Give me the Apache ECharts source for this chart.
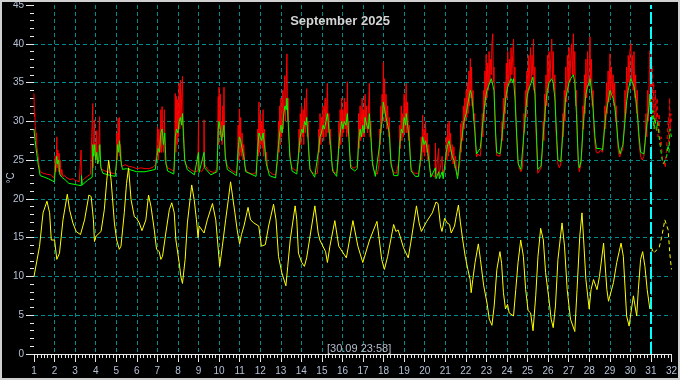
<!DOCTYPE html>
<html><head><meta charset="utf-8">
<script src="https://cdn.jsdelivr.net/npm/echarts@6/dist/echarts.min.js"></script>
<style>html,body{margin:0;padding:0;background:#000;}#c{width:680px;height:380px;}</style>
</head><body><div id="c"></div>
<script>
const titleText = 'September 2025';
const cursorText = '[30.09 23:58]';
const unitText = '°C';
const xTicks = {min: 1, max: 32, interval: 1};
const yTicks = {min: 0, max: 45, interval: 5};
const cursorDay = 31;

// [day, °C]
const red = [
[1.00,33.6],[1.02,30.6],[1.04,31],[1.06,29.3],[1.08,29],[1.10,27.6],[1.12,28.5],[1.14,26.8],[1.17,27],[1.20,25.5],[1.24,24.5],[1.30,23.5],[1.45,23.3],[1.6,23.2],[1.8,23.1],[1.98,22.7],
[2.03,25.5],[2.06,23.5],[2.09,26],[2.11,28],[2.13,24],[2.16,26.3],[2.19,23.5],[2.22,25.9],[2.25,23.5],[2.28,25],[2.31,23],[2.35,23.8],[2.4,22.9],[2.5,23],[2.6,22.7],[2.75,22.5],[2.9,22.6],[3.0,22.4],
[3.1,22.3],[3.2,22.2],[3.27,22.1],[3.29,26.3],[3.31,22.3],[3.45,22.6],[3.6,22.9],[3.75,23.2],[3.83,23.3],
[3.86,32.3],[3.88,24],[3.91,28],[3.94,30.2],[3.96,25.5],[3.99,27.2],[4.02,25],[4.05,28.8],[4.08,24.5],[4.11,26],[4.15,27],[4.19,30.6],[4.21,25.5],[4.25,24.2],[4.3,23.8],[4.45,23.6],[4.6,23.5],[4.8,23.3],[4.95,23.3],
[5.0,24],[5.03,28.5],[5.06,25],[5.09,30.4],[5.12,26.5],[5.15,30.5],[5.18,25.5],[5.21,27],[5.25,24.2],[5.32,24],[5.45,24.4],[5.6,24.2],[5.8,24.1],[6.0,23.9],
[6.2,24],[6.4,23.9],[6.6,23.9],[6.8,24.1],[6.9,24.4],
[6.95,25.5],[6.98,27],[7.01,29.3],[7.04,25],[7.07,29],[7.1,27.5],[7.13,26],[7.17,31.5],[7.2,26],[7.23,31.9],[7.26,27.2],[7.3,26],[7.34,31.5],[7.37,25],[7.42,24.8],[7.5,24],[7.65,23.8],[7.8,23.6],
[7.84,24.5],[7.87,33.6],[7.9,26],[7.93,33.2],[7.96,27],[7.99,32.8],[8.02,28],[8.06,34.9],[8.09,29],[8.12,35.3],[8.15,30],[8.18,33],[8.22,35.8],[8.25,30],[8.28,28.5],[8.31,26],[8.35,24.6],[8.45,24.2],[8.6,23.8],[8.8,23.5],[8.97,23.6],
[9.0,30.2],[9.02,23.8],[9.15,23.5],[9.26,24],[9.27,30.2],[9.29,24.5],[9.35,24.2],[9.45,23.8],[9.6,23.5],[9.8,23.4],[9.9,24],
[9.93,27.2],[9.96,33.2],[9.98,27],[10.0,34.4],[10.03,29],[10.06,33.5],[10.09,28],[10.12,30],[10.15,27],[10.18,32],[10.21,28],[10.24,34.4],[10.27,27.2],[10.3,26],[10.34,24.6],[10.42,24.2],[10.55,23.8],[10.7,23.5],[10.85,23.4],
[10.9,24.5],[10.93,29.5],[10.96,25],[10.99,31.6],[11.02,26],[11.05,30.5],[11.08,25.5],[11.12,28.5],[11.16,25],[11.2,27],[11.25,24.2],[11.35,23.5],[11.5,23.3],[11.65,23.2],[11.8,23.4],
[11.85,25],[11.88,29],[11.91,25.5],[11.94,32.5],[11.97,26],[12.0,31],[12.03,27],[12.07,30],[12.1,26.5],[12.14,31.5],[12.17,25.5],[12.21,29],[12.25,25],[12.3,26],[12.36,24],[12.45,23.5],[12.6,23.2],[12.75,23.1],
[12.86,25],[12.89,30],[12.92,26],[12.95,32],[12.98,27],[13.01,33],[13.04,28],[13.07,31],[13.1,34],[13.13,29],[13.16,33.5],[13.2,35.9],[13.23,30],[13.27,35],[13.3,38.7],[13.33,30],[13.36,33],[13.4,28],[13.44,26],[13.5,24.5],[13.55,24],[13.65,23.8],[13.78,23.6],
[13.86,25],[13.89,29],[13.92,26],[13.95,31],[13.98,27],[14.02,32],[14.05,28],[14.09,31.5],[14.12,27],[14.16,33],[14.2,28.5],[14.23,32],[14.26,34.2],[14.29,28],[14.33,30],[14.37,25.5],[14.42,24],[14.5,23.5],[14.65,23.2],[14.78,23.3],
[14.82,25],[14.85,29],[14.88,26],[14.91,31],[14.95,27],[14.98,30.5],[15.02,28],[15.06,32],[15.09,27.5],[15.12,31],[15.16,33],[15.2,28],[15.24,32.5],[15.27,34.9],[15.3,28.5],[15.34,31],[15.38,27],[15.42,29],[15.46,25],[15.52,24],[15.6,23.4],[15.72,23.3],
[15.8,25],[15.83,30],[15.86,26.5],[15.89,31.5],[15.92,27],[15.96,33],[15.99,28],[16.02,31.5],[16.06,28.5],[16.09,33],[16.13,29],[16.17,32.5],[16.21,28],[16.24,35.1],[16.27,28.5],[16.31,30],[16.35,26],[16.4,24.5],[16.48,24],[16.6,24],[16.72,24.3],
[16.76,25.5],[16.79,31],[16.82,26.5],[16.86,32],[16.89,27.5],[16.92,30],[16.96,33],[16.99,28],[17.03,31.5],[17.06,28],[17.1,33.5],[17.14,29],[17.18,32],[17.22,28.5],[17.26,31],[17.31,34.9],[17.34,28],[17.38,30],[17.42,26.5],[17.46,25],[17.52,23.8],[17.6,23.3],[17.7,23.2],
[17.78,24.5],[17.81,29],[17.84,27],[17.87,32],[17.9,28.5],[17.93,33.5],[17.96,30],[17.99,37.6],[18.02,31],[18.05,35.5],[18.08,30],[18.12,33.5],[18.16,29],[18.2,32],[18.24,28],[18.28,30.5],[18.32,26],[18.36,25],[18.42,24],[18.5,23.4],[18.62,23.3],[18.7,23.4],
[18.76,25],[18.79,29.5],[18.82,26.5],[18.86,32],[18.89,27.5],[18.93,31],[18.96,28],[19.0,33.5],[19.03,28.5],[19.07,32],[19.1,34.9],[19.13,28.5],[19.17,32.5],[19.21,27.5],[19.25,29.5],[19.29,25.5],[19.34,24],[19.42,23.4],[19.55,23.3],[19.7,23.3],
[19.8,24.5],[19.83,28],[19.86,25],[19.9,30.8],[19.93,26],[19.97,29],[20.0,25.5],[20.04,30],[20.08,26],[20.12,28.5],[20.16,25],[20.2,27],[20.25,24],[20.3,23.2],[20.4,23],[20.5,22.8],
[20.52,27.2],[20.54,23],[20.62,22.9],[20.68,26.5],[20.7,23],[20.78,22.9],[20.85,25.5],[20.87,23],[20.95,23.2],
[21.02,24.5],[21.05,28],[21.08,25],[21.12,29.7],[21.15,25.5],[21.19,30],[21.22,26],[21.26,28.5],[21.3,25],[21.34,27],[21.38,24.5],[21.42,26.7],[21.45,24],[21.5,25.5],[21.55,23.5],[21.62,23],[21.68,22.9],
[21.72,25],[21.75,29.7],[21.78,26],[21.82,30],[21.85,27.5],[21.88,32],[21.92,29],[21.95,33],[21.98,30],[22.02,34],[22.05,30.5],[22.08,35],[22.11,31],[22.15,36.5],[22.18,32],[22.22,38.1],[22.25,33],[22.28,37],[22.31,32],[22.35,34],[22.39,30],[22.43,31],[22.47,27],[22.52,25.4],[22.58,25.8],
[22.65,26],[22.7,25.5],[22.76,27],[22.8,31],[22.83,28],[22.86,34],[22.89,30],[22.93,36.5],[22.96,32],[22.99,38.6],[23.03,33],[23.06,37.5],[23.1,34],[23.13,39],[23.17,35],[23.2,38],[23.24,36],[23.27,40],[23.31,41.3],[23.34,35],[23.37,37],[23.41,31],[23.45,28],[23.5,25.6],[23.58,25.8],[23.66,25.5],
[23.72,26.5],[23.76,30],[23.79,27.5],[23.83,33],[23.86,29],[23.9,35],[23.93,31],[23.97,37.5],[24.0,33],[24.04,39],[24.08,34.5],[24.12,38],[24.16,35],[24.2,39.5],[24.24,36],[24.28,38.5],[24.32,40.6],[24.35,35],[24.39,37],[24.43,31],[24.47,28],[24.52,25],[24.6,24],[24.68,23.5],[24.75,24],
[24.8,27],[24.83,31],[24.86,28.5],[24.9,34],[24.93,30.5],[24.97,36.5],[25.0,32],[25.04,38.5],[25.07,34],[25.11,37.5],[25.15,39.5],[25.18,35],[25.22,38.5],[25.26,36],[25.29,40.6],[25.32,34],[25.36,37],[25.4,30],[25.44,27],[25.5,23.3],[25.58,23.5],[25.66,24],
[25.72,26],[25.76,30],[25.8,27.5],[25.83,33.5],[25.87,30],[25.9,36],[25.94,32],[25.97,38.5],[26.01,34],[26.05,39],[26.09,35],[26.13,38],[26.18,40.6],[26.21,35.5],[26.25,39],[26.29,34],[26.33,36],[26.37,30],[26.42,27],[26.48,24.5],[26.55,24],[26.62,24.5],
[26.68,27],[26.72,31],[26.75,28],[26.79,34],[26.83,30],[26.86,37],[26.9,32.5],[26.94,38.5],[26.98,34],[27.02,39.5],[27.06,35],[27.1,38],[27.14,40],[27.18,36],[27.23,41.3],[27.26,36],[27.3,39],[27.34,32],[27.38,34],[27.42,28],[27.47,24.5],[27.52,23.5],[27.6,24.5],
[27.66,27],[27.7,32],[27.73,29],[27.77,36],[27.8,31],[27.84,38],[27.88,33],[27.92,39],[27.96,34.5],[28.0,37],[28.04,40.9],[28.07,35],[28.11,38],[28.15,32],[28.19,34],[28.23,29],[28.28,27],[28.35,26],[28.45,25.9],[28.55,26.3],[28.65,26],
[28.72,28],[28.76,32],[28.8,29],[28.84,35],[28.88,31],[28.92,36.5],[28.96,32.5],[29.01,38.7],[29.04,33],[29.08,37],[29.12,33.5],[29.16,36],[29.2,32],[29.24,35],[29.28,30],[29.32,32],[29.37,28],[29.42,26],[29.48,25.4],[29.56,25.6],[29.64,26.5],
[29.7,29],[29.74,34],[29.78,31],[29.82,37],[29.86,33],[29.9,38.5],[29.94,35],[29.98,39],[30.03,40],[30.06,35.5],[30.1,38.5],[30.14,34],[30.18,39],[30.22,33],[30.26,36],[30.3,31],[30.34,34],[30.38,29],[30.43,27],[30.5,25.5],[30.58,25],[30.66,25.5],
[30.72,27],[30.76,31],[30.8,28],[30.84,34],[30.88,30],[30.92,36],[30.95,39.1],[30.98,33],[31.0,36]
];

const green = [
[1.0,29],[1.03,28],[1.06,27.5],[1.1,26.5],[1.15,25.5],[1.2,24.5],[1.3,23],[1.5,22.8],[1.7,22.6],[1.98,22.2],
[2.05,24],[2.1,25.5],[2.15,24.5],[2.2,25],[2.25,23.2],[2.35,22.8],[2.5,22.5],[2.7,22],[2.9,21.9],
[3.1,21.8],[3.3,21.7],[3.31,23],[3.35,21.8],[3.6,22.4],[3.83,22.8],
[3.86,27],[3.9,25.5],[3.95,27],[4.0,25],[4.05,26],[4.1,24.5],[4.15,25],[4.2,27],[4.25,24],[4.35,23.3],[4.6,23.1],[4.95,22.9],
[5.02,25],[5.07,27],[5.12,26],[5.16,27.5],[5.22,25],[5.3,23.8],[5.5,23.9],[6.0,23.5],
[6.4,23.5],[6.9,23.8],
[6.98,25.5],[7.03,26.5],[7.1,26],[7.17,28.5],[7.23,29],[7.3,27],[7.36,28.5],[7.42,24.5],[7.5,23.6],[7.8,23.2],
[7.87,28],[7.93,29],[8.0,28.5],[8.06,30],[8.12,30.5],[8.18,29.5],[8.22,31],[8.27,28],[8.33,25],[8.45,23.8],[8.8,23.1],
[9.0,26],[9.03,23.4],[9.27,26],[9.3,24],[9.6,23.1],[9.9,23.5],
[9.96,29],[10.0,30],[10.06,29],[10.12,27.5],[10.18,28.5],[10.24,29.5],[10.3,25.5],[10.4,23.8],[10.85,23],
[10.93,26.5],[10.99,28],[11.05,27.5],[11.12,26.5],[11.2,25.5],[11.3,23.5],[11.8,22.9],
[11.88,26.5],[11.94,28.5],[12.0,28],[12.07,27.5],[12.14,28.5],[12.21,27],[12.3,24.5],[12.45,23],[12.75,22.7],
[12.89,27],[12.95,28.5],[13.01,29.5],[13.07,28.5],[13.13,30.5],[13.2,32],[13.27,31.5],[13.3,33],[13.36,30],[13.44,25.5],[13.55,23.6],[13.78,23.2],
[13.89,26.5],[13.95,28],[14.02,29],[14.09,28.5],[14.16,30],[14.23,29.5],[14.26,30.5],[14.33,27.5],[14.42,23.8],[14.65,22.8],
[14.85,26.5],[14.91,28],[14.98,28.5],[15.06,29.5],[15.12,29],[15.2,30],[15.27,31],[15.34,29],[15.42,27],[15.52,23.6],[15.72,22.9],
[15.83,27],[15.89,28.5],[15.96,30],[16.02,29],[16.09,30],[16.17,29.5],[16.24,31],[16.31,28],[16.4,24],[16.6,23.6],[16.72,23.9],
[16.79,27.5],[16.86,29],[16.92,28],[16.99,29.5],[17.06,28.5],[17.1,30.5],[17.18,29.5],[17.26,29],[17.31,31],[17.38,28],[17.46,24.5],[17.6,22.9],
[17.81,27],[17.87,29],[17.93,30],[17.99,32.5],[18.05,31.5],[18.12,30.5],[18.2,29.5],[18.28,28.5],[18.36,24.5],[18.5,23],[18.7,23],
[18.79,27],[18.86,29],[18.93,28.5],[19.0,30.5],[19.07,29.5],[19.1,31],[19.17,29.5],[19.25,27.5],[19.34,23.6],[19.55,22.9],[19.7,22.9],
[19.83,26],[19.9,28],[19.97,27],[20.04,27.5],[20.12,26.5],[20.2,25],[20.3,22.8],[20.52,24],[20.55,22.6],[20.68,23.5],[20.72,22.6],[20.85,23.5],[20.9,22.6],[20.95,22.8],
[21.05,26],[21.12,27],[21.19,27.5],[21.26,26.5],[21.34,25.5],[21.42,25],[21.5,24],[21.6,22.6],
[21.75,27],[21.82,28],[21.88,29.5],[21.95,30.5],[22.02,31],[22.08,32],[22.15,33],[22.22,34],[22.28,33.5],[22.35,31.5],[22.43,29],[22.52,25.8],[22.6,26],
[22.7,26.5],[22.76,28],[22.83,30],[22.89,31.5],[22.96,33],[23.03,34],[23.1,34.5],[23.17,35],[23.24,35.5],[23.31,35.7],[23.37,34],[23.45,28.5],[23.5,26],[23.66,25.8],
[23.76,28],[23.83,30.5],[23.9,32],[23.97,33.5],[24.04,34.5],[24.12,35],[24.2,35.5],[24.28,35],[24.32,35.5],[24.39,33],[24.47,28.5],[24.55,24.5],[24.68,23.8],
[24.83,28.5],[24.9,31],[24.97,33],[25.04,34],[25.11,34.5],[25.18,35],[25.26,35.7],[25.29,35],[25.36,33.5],[25.44,28],[25.5,23.8],[25.66,24.2],
[25.76,28],[25.83,30.5],[25.9,32.5],[25.97,34],[26.05,35],[26.13,35],[26.18,35.5],[26.25,35],[26.33,33],[26.42,28],[26.48,25],[26.62,24.8],
[26.72,28.5],[26.79,31],[26.86,33],[26.94,34],[27.02,35],[27.1,35.5],[27.18,35.7],[27.23,36],[27.3,35],[27.38,31],[27.47,25],[27.52,24],[27.6,24.8],
[27.7,29],[27.77,31.5],[27.84,33.5],[27.92,34.5],[28.0,35],[28.04,35.5],[28.11,34],[28.19,31.5],[28.28,28],[28.35,26.5],[28.55,26.5],[28.65,26.3],
[28.76,29.5],[28.84,31.5],[28.92,32.5],[29.01,34],[29.08,33.5],[29.16,33],[29.24,32],[29.32,30],[29.42,26.8],[29.5,25.8],[29.64,27],
[29.74,30],[29.82,32.5],[29.9,34],[29.98,35],[30.03,35.5],[30.1,35],[30.18,34.5],[30.26,33],[30.34,31],[30.43,28],[30.5,26],[30.66,25.8],
[30.76,28.5],[30.84,30.5],[30.92,32],[30.95,33.5],[31.0,32.5]
];

const yellow = [
[1.00,10.0],[1.08,10.1],[1.27,13.9],[1.44,18.2],[1.63,19.7],[1.76,18.2],[1.84,14.7],[1.92,14.5],[2.00,14.7],[2.11,12.2],[2.24,13.0],[2.41,17.3],[2.62,20.6],[2.73,18.6],[2.89,16.9],
[3.05,15.8],[3.26,15.4],[3.46,17.3],[3.67,20.5],[3.78,20.3],[3.89,17.3],[3.94,14.5],[4.02,15.2],[4.26,15.8],[4.42,18.6],[4.54,22.4],[4.63,25.0],[4.75,22.4],[4.91,16.9],
[5.02,14.7],[5.15,13.5],[5.23,13.9],[5.39,18.2],[5.5,22],[5.6,24.0],[5.72,19.9],[5.88,17.7],[5.99,17.5],[6.12,16.9],[6.25,15.9],[6.44,17.3],[6.57,20.5],[6.69,19.0],[6.85,16.0],
[6.96,13.5],[7.09,13.2],[7.17,12.2],[7.25,12.6],[7.41,15.6],[7.58,18.6],[7.70,19.5],[7.82,18.2],[7.90,14.7],[8.06,11.8],[8.14,10.0],[8.22,9.1],[8.35,12.2],[8.46,16.9],[8.67,21.8],[8.79,19.9],[8.90,17.3],
[8.98,15.0],[9.03,16.5],[9.27,15.6],[9.43,17.3],[9.68,19.4],[9.84,17.3],[10.03,11.3],[10.16,13.9],[10.32,17.3],[10.45,19.9],[10.56,22.2],[10.68,19.9],[10.77,18.2],[10.88,16.0],
[11.0,14.2],[11.09,15.4],[11.21,16.5],[11.41,18.9],[11.53,17.3],[11.69,16.9],[11.93,16.5],[12.06,13.9],[12.25,14.1],[12.41,16.5],[12.65,19.3],[12.77,17.3],[12.89,12.6],
[13.05,10.5],[13.25,8.8],[13.34,11.3],[13.46,14.7],[13.70,19.1],[13.78,17.3],[13.86,13.0],[14.02,11.8],[14.15,11.3],[14.26,12.4],[14.42,15.1],[14.66,19.1],[14.82,15.6],[14.90,14.7],
[15.18,13.2],[15.27,11.8],[15.39,13.9],[15.63,17.2],[15.82,13.9],[16.19,12.4],[16.51,17.2],[16.75,13.9],[16.99,11.8],[17.32,14.7],[17.68,17.1],[17.91,12.2],
[18.04,10.9],[18.20,12.6],[18.49,16.7],[18.60,15.8],[18.71,16.0],[18.97,13.7],[19.20,12.4],[19.32,14.3],[19.60,19.1],[19.73,16.9],[19.84,15.8],
[20.10,17.1],[20.37,18.2],[20.55,19.6],[20.65,19.4],[20.77,16.5],[20.84,15.8],[20.97,17.5],[21.09,16.9],[21.21,16.7],[21.29,15.6],[21.45,16.5],[21.53,17.7],[21.64,19.2],[21.74,16.9],[21.85,14.7],
[21.97,12.6],[22.10,10.9],[22.21,9.6],[22.26,7.9],[22.34,9.6],[22.45,11.8],[22.61,14.2],[22.71,12.2],[22.87,8.8],
[23.03,6.6],[23.14,4.5],[23.27,3.7],[23.38,6.2],[23.51,10.9],[23.66,13.2],[23.74,11.7],[23.83,7.9],[23.93,5.8],
[24.03,6.4],[24.11,5.3],[24.32,4.9],[24.43,8.3],[24.54,11.8],[24.67,14.7],[24.80,12.6],[24.91,8.3],
[25.03,5.6],[25.15,5.3],[25.27,3.0],[25.40,7.5],[25.51,12.6],[25.64,16.2],[25.77,14.7],[25.88,10.5],
[26.04,7.1],[26.15,4.5],[26.25,3.4],[26.36,6.2],[26.48,12.2],[26.68,16.9],[26.80,13.9],[26.93,8.3],
[27.09,4.5],[27.30,2.9],[27.41,8.3],[27.54,15.1],[27.65,18.2],[27.73,14.7],[27.84,9.6],
[28.00,5.8],[28.09,8.3],[28.21,9.6],[28.38,8.3],[28.50,10.0],[28.70,14.3],[28.86,8.3],[28.94,6.8],
[29.18,9.2],[29.34,11.8],[29.55,14.3],[29.66,12.6],[29.82,4.9],[29.94,3.6],
[30.03,5.3],[30.15,7.5],[30.31,4.9],[30.39,8.3],[30.50,12.2],[30.60,13.2],[30.71,11.3],[30.82,8.3],[30.95,5.8]
];

// after the cursor (dashed)
const redNext = [[31.0,36],[31.03,30],[31.06,37.2],[31.1,31],[31.14,35],[31.18,29],[31.22,34],[31.26,30],[31.3,33],[31.35,28],[31.4,31],[31.45,27],[31.5,28],[31.55,25.5],[31.6,24.5],[31.65,25],[31.7,24],[31.75,26],[31.8,28],[31.85,30.5],[31.88,27],[31.91,33],[31.94,29],[31.97,31],[32.0,30]];
const greenNext = [[31.0,32.5],[31.05,30],[31.1,31.4],[31.15,29],[31.2,30.5],[31.27,28.8],[31.33,30],[31.4,28],[31.47,26.5],[31.55,25],[31.62,24.5],[31.7,24.3],[31.77,25.5],[31.83,27],[31.88,26],[31.93,29],[32.0,28]];
const yellowNext = [[31.03,13.7],[31.14,13.0],[31.27,13.4],[31.40,13.7],[31.52,15.0],[31.68,17.3],[31.84,16.0],[31.92,13.0],[32.0,10.9]];

const chart = echarts.init(document.getElementById('c'), null, {renderer: 'canvas'});
const labelColor = '#b4c0d4';
const gridColor = '#008c8c';
const font = 'Liberation Sans, Arial, sans-serif';
const dash = [4, 3];

function line(data, color, dashed, z) {
  return {type: 'line', data: data, showSymbol: false, symbol: 'none', z: z,
    lineStyle: {color: color, width: 1, type: dashed ? dash : 'solid'}, itemStyle: {color: color},
    animation: false, silent: true};
}

const yellowMain = line(yellow, '#ffff00', false, 5);
yellowMain.markLine = {symbol: 'none', silent: true, animation: false, label: {show: false},
  lineStyle: {color: '#00ffff', width: 2, type: [12, 3]}, data: [{xAxis: cursorDay}]};

chart.setOption({
  backgroundColor: '#000000',
  animation: false,
  title: {text: titleText, left: 'center', top: 10,
    textStyle: {color: '#d4d4d4', fontSize: 13, fontWeight: 'bold', fontFamily: font}},
  grid: {left: 34, right: 6, top: 4, bottom: 26, containLabel: false},
  xAxis: {type: 'value', min: xTicks.min, max: xTicks.max, interval: xTicks.interval,
    axisLine: {show: true, lineStyle: {color: '#e8e8e8', width: 1}},
    axisTick: {show: true, length: 8, lineStyle: {color: '#e8e8e8'}},
    minorTick: {show: true, splitNumber: 6, length: 4, lineStyle: {color: '#e8e8e8'}},
    axisLabel: {color: labelColor, fontSize: 10, fontFamily: font, margin: 12, showMinLabel: true, showMaxLabel: true},
    splitLine: {show: true, showMinLine: false, showMaxLine: false, lineStyle: {color: gridColor, type: dash, width: 1}}},
  yAxis: {type: 'value', min: yTicks.min, max: yTicks.max, interval: yTicks.interval,
    axisLine: {show: false},
    axisTick: {show: true, length: 8, lineStyle: {color: '#e8e8e8'}},
    minorTick: {show: true, splitNumber: 5, length: 4, lineStyle: {color: '#e8e8e8'}},
    axisLabel: {color: labelColor, fontSize: 10, fontFamily: font, margin: 10},
    splitLine: {show: true, showMinLine: false, showMaxLine: false, lineStyle: {color: gridColor, type: dash, width: 1}}},
  graphic: [
    {type: 'text', left: 327, top: 343, z: 10, style: {text: cursorText, fill: '#b4bccc', font: '11px ' + font}},
    {type: 'text', x: 11, y: 178, rotation: Math.PI / 2, z: 10,
      style: {text: unitText, fill: labelColor, font: '10px ' + font, textAlign: 'center', textVerticalAlign: 'middle'}},
    {type: 'rect', shape: {x: 1, y: 1, width: 678, height: 378}, z: 20,
      style: {fill: 'none', stroke: '#d0d0d0', lineWidth: 2}}
  ],
  series: [
    line(red, '#ff0000', false, 2),
    line(green, '#00ff00', false, 3),
    yellowMain,
    line(redNext, '#ff0000', true, 2),
    line(greenNext, '#00ff00', true, 3),
    line(yellowNext, '#ffff00', true, 5)
  ]
});
</script></body></html>
